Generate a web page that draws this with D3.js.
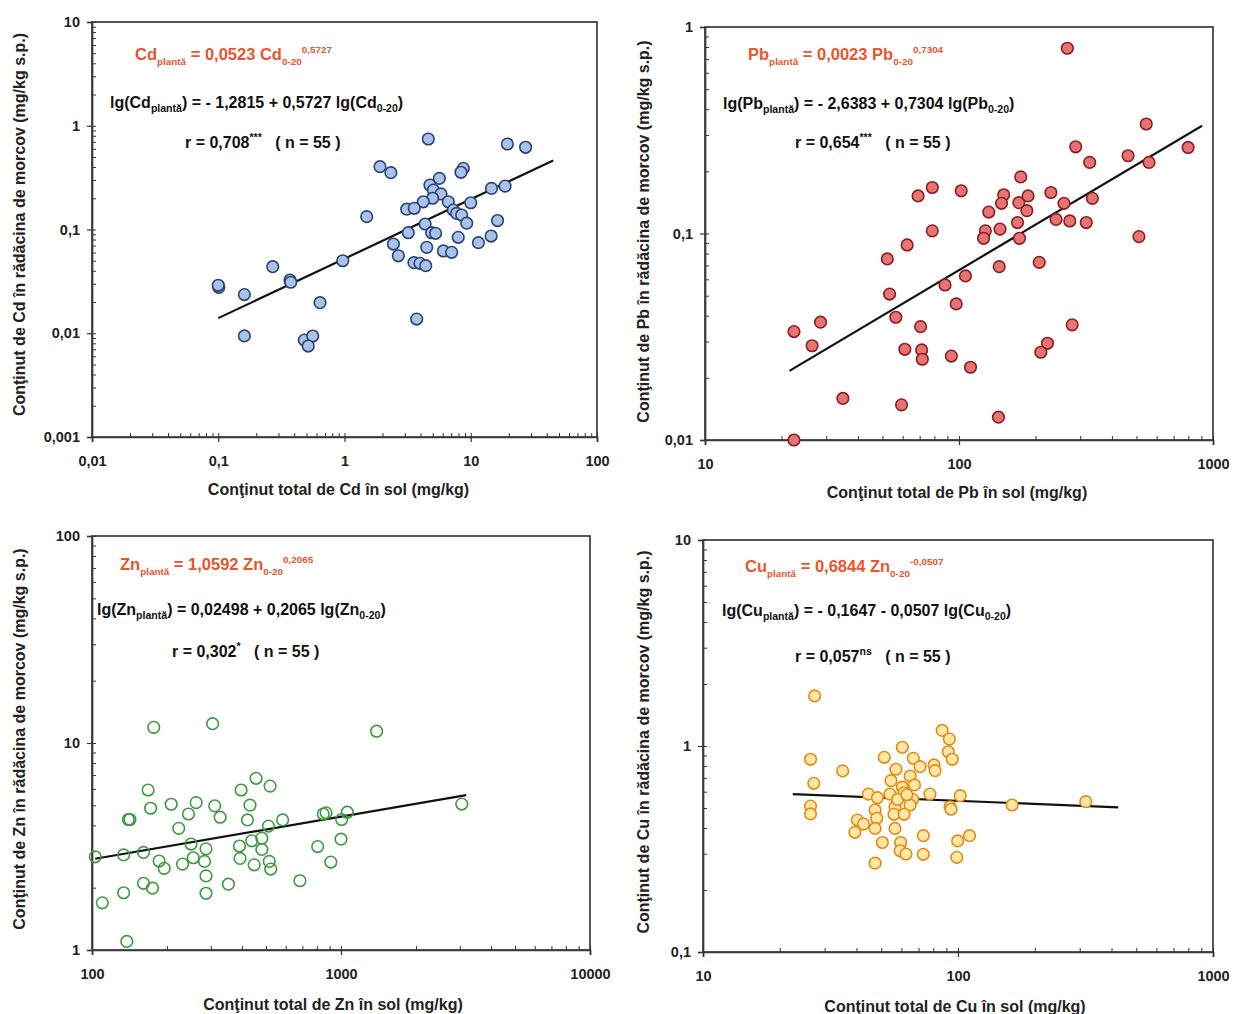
<!DOCTYPE html>
<html><head><meta charset="utf-8">
<script src="https://cdn.jsdelivr.net/npm/d3@7"></script>
<style>body{margin:0;background:#fff} text{white-space:pre}</style>
</head><body>
<svg id="c" width="1236" height="1014"></svg>
<script>
// ---------- DATA ----------
const cdSoil  = [4.61,19.5,27.2,1.91,2.33,8.73,8.37,5.64,4.75,5.06,5.81,4.99,4.21,3.11,3.57,6.64,7.27,7.73,10.0,8.47,9.29,14.6,18.7,16.3,14.5,11.5,7.96,4.35,4.90,5.27,4.48,6.07,7.06,3.20,2.44,2.67,3.55,3.96,4.40,1.50,0.969,0.270,0.370,0.375,0.101,0.100,0.161,0.640,3.73,0.161,0.481,0.560,0.516];
const cdPlant = [0.745,0.667,0.620,0.403,0.353,0.389,0.356,0.311,0.268,0.240,0.220,0.200,0.185,0.157,0.160,0.185,0.154,0.143,0.181,0.138,0.115,0.249,0.262,0.122,0.0865,0.0746,0.0841,0.113,0.0931,0.0919,0.0673,0.0621,0.0603,0.0931,0.0724,0.0558,0.0479,0.0472,0.0448,0.133,0.050,0.0438,0.0326,0.031,0.0277,0.029,0.0236,0.0197,0.0137,0.00942,0.0086,0.0094,0.00753];

const pbSoil  = [267,546,798,288,327,463,560,175,69,78.5,102,150,147,172,187,185,230,259,335,131,170,241,273,317,127,125,145,173,78.5,511,62.5,52.2,144,207,106,88.1,53.3,97.5,56.4,70.6,279,22.4,28.5,26.4,61.2,71.3,71.7,93.3,111,223,210,34.9,59.4,143,22.4];
const pbPlant = [0.789,0.339,0.261,0.263,0.221,0.238,0.221,0.188,0.152,0.167,0.161,0.154,0.140,0.141,0.152,0.129,0.158,0.140,0.148,0.127,0.113,0.117,0.115,0.113,0.103,0.0948,0.105,0.0948,0.103,0.0966,0.088,0.0753,0.0691,0.0725,0.0623,0.0563,0.0509,0.0456,0.0393,0.0354,0.0361,0.0335,0.0372,0.0286,0.0275,0.0273,0.0246,0.0255,0.0225,0.0294,0.0266,0.0159,0.0148,0.0129,0.0100];

const znSoil  = [177,305,1390,168,172,140,142,208,262,244,311,327,223,397,456,519,431,421,511,583,849,871,1060,1006,3055,103,134,161,186,195,231,250,255,287,283,287,287,161,175,134,110,138,353,391,393,448,438,481,481,515,522,684,806,910,1000];
const znPlant = [11.9,12.4,11.4,5.93,4.84,4.27,4.27,5.06,5.15,4.54,4.97,4.38,3.87,5.93,6.75,6.19,5.01,4.25,3.97,4.25,4.54,4.60,4.63,4.27,5.07,2.82,2.88,2.96,2.69,2.48,2.60,3.25,2.79,3.08,2.68,2.28,1.88,2.10,1.99,1.89,1.69,1.10,2.08,3.18,2.77,2.58,3.37,3.47,3.06,2.68,2.46,2.16,3.16,2.66,3.43];

const cuSoil  = [27.4,26.4,27.2,26.4,26.4,35.3,51.4,60.5,66.8,71.0,80.5,81.3,86.7,92.5,91.6,95.0,57.1,54.6,64.9,67.5,60.5,61.4,54.1,44.5,48.3,66.4,64.9,56.6,77.6,102,93.1,93.9,163,317,47.3,56.1,61.5,48.0,40.3,42.6,39.4,47.3,56.6,50.5,59.6,59.3,62.5,73.1,73.1,99.7,111,98.9,47.3,58,63];
const cuPlant = [1.75,0.862,0.659,0.511,0.468,0.757,0.881,0.986,0.871,0.794,0.809,0.759,1.19,1.08,0.938,0.862,0.771,0.679,0.715,0.647,0.631,0.593,0.584,0.584,0.561,0.551,0.517,0.507,0.584,0.574,0.507,0.493,0.517,0.537,0.489,0.466,0.466,0.446,0.437,0.418,0.381,0.398,0.398,0.340,0.340,0.310,0.299,0.367,0.298,0.346,0.367,0.288,0.270,0.55,0.58];

// regression: a * x^b, drawn over given soil range
const cdFit = {a:0.0523, b:0.5727, from:0.1, to:45};
const pbFit = {a:0.0023, b:0.7304, from:21.5, to:906};
const znFit = {a:1.0592, b:0.2065, from:103, to:3180};
const cuFit = {a:0.6844, b:-0.0507, from:22.5, to:425};

// tick values and labels
const cdXTicks = [0.01,0.1,1,10,100], cdXLabels = ["0,01","0,1","1","10","100"];
const cdYTicks = [0.001,0.01,0.1,1,10], cdYLabels = ["0,001","0,01","0,1","1","10"];
const pbXTicks = [10,100,1000], pbXLabels = ["10","100","1000"];
const pbYTicks = [0.01,0.1,1], pbYLabels = ["0,01","0,1","1"];
const znXTicks = [100,1000,10000], znXLabels = ["100","1000","10000"];
const znYTicks = [1,10,100], znYLabels = ["1","10","100"];
const cuXTicks = [10,100,1000], cuXLabels = ["10","100","1000"];
const cuYTicks = [0.1,1,10], cuYLabels = ["0,1","1","10"];

// texts
const cdTexts = {
  eq:[["Cd"],["plantă","sub"],[" = 0,0523 Cd"],["0-20","sub"],["0,5727","sup"]],
  lg:[["lg(Cd"],["plantă","sub"],[") = - 1,2815 + 0,5727 lg(Cd"],["0-20","sub"],[")"]],
  r:[["r = 0,708"],["***","sup"],["   ( n = 55 )"]],
  xt:"Conţinut total de Cd în sol (mg/kg)", yt:"Conţinut de Cd în rădăcina de morcov (mg/kg s.p.)"};
const pbTexts = {
  eq:[["Pb"],["plantă","sub"],[" = 0,0023 Pb"],["0-20","sub"],["0,7304","sup"]],
  lg:[["lg(Pb"],["plantă","sub"],[") = - 2,6383 + 0,7304 lg(Pb"],["0-20","sub"],[")"]],
  r:[["r = 0,654"],["***","sup"],["   ( n = 55 )"]],
  xt:"Conţinut total de Pb în sol (mg/kg)", yt:"Conţinut de Pb în rădăcina de morcov (mg/kg s.p.)"};
const znTexts = {
  eq:[["Zn"],["plantă","sub"],[" = 1,0592 Zn"],["0-20","sub"],["0,2065","sup"]],
  lg:[["lg(Zn"],["plantă","sub"],[") = 0,02498 + 0,2065 lg(Zn"],["0-20","sub"],[")"]],
  r:[["r = 0,302"],["*","sup"],["   ( n = 55 )"]],
  xt:"Conţinut total de Zn în sol (mg/kg)", yt:"Conţinut de Zn în rădăcina de morcov (mg/kg s.p.)"};
const cuTexts = {
  eq:[["Cu"],["plantă","sub"],[" = 0,6844 Zn"],["0-20","sub"],["-0,0507","sup"]],
  lg:[["lg(Cu"],["plantă","sub"],[") = - 0,1647 - 0,0507 lg(Cu"],["0-20","sub"],[")"]],
  r:[["r = 0,057"],["ns","sup"],["   ( n = 55 )"]],
  xt:"Conţinut total de Cu în sol (mg/kg)", yt:"Conţinut de Cu în rădăcina de morcov (mg/kg s.p.)"};

// ---------- DRAWING ----------
const svg = d3.select("#c");
const FONT = "'Liberation Sans', Arial, sans-serif";

function minorTicks(dom){
  const out=[]; const lo=Math.round(Math.log10(dom[0])), hi=Math.round(Math.log10(dom[1]));
  for(let k=lo;k<=hi;k++){ for(let m=1;m<=9;m++){ const v=m*Math.pow(10,k); if(v>=dom[0]*0.999&&v<=dom[1]*1.001) out.push(v);} }
  return out;
}

function richText(g, x, y, parts, size, color, subScale){
  const t = g.append("text").attr("x",x).attr("y",y).attr("font-family",FONT)
    .attr("font-weight","bold").attr("font-size",size).attr("fill",color)
    .attr("xml:space","preserve");
  let cur=0;
  parts.forEach(p=>{
    let target=0, fs=size;
    if(p[1]==="sub"){target=size*0.28; fs=size*subScale;}
    if(p[1]==="sup"){target=-size*0.45; fs=size*subScale;}
    t.append("tspan").attr("dy",target-cur).attr("font-size",fs).text(p[0]);
    cur=target;
  });
  return t;
}

function panel(cfg){
  const g = svg.append("g");
  const x = d3.scaleLog().domain(cfg.xDom).range([cfg.x0,cfg.x1]);
  const y = d3.scaleLog().domain(cfg.yDom).range([cfg.y1,cfg.y0]);

  // frame
  g.append("rect").attr("x",cfg.x0).attr("y",cfg.y0).attr("width",cfg.x1-cfg.x0).attr("height",cfg.y1-cfg.y0)
    .attr("fill","none").attr("stroke","#3a3a3a").attr("stroke-width",1.7);

  // minor ticks (inside)
  const gxm = g.append("g").attr("transform",`translate(0,${cfg.y1})`)
    .call(d3.axisBottom(x).tickValues(minorTicks(cfg.xDom)).tickSize(-4).tickFormat(""));
  const gym = g.append("g").attr("transform",`translate(${cfg.x0},0)`)
    .call(d3.axisLeft(y).tickValues(minorTicks(cfg.yDom)).tickSize(-4).tickFormat(""));
  [gxm,gym].forEach(a=>{a.select(".domain").remove(); a.selectAll("line").attr("stroke","#333").attr("stroke-width",1);});

  // major ticks (outside) with labels
  const gx = g.append("g").attr("transform",`translate(0,${cfg.y1})`)
    .call(d3.axisBottom(x).tickValues(cfg.xTicks).tickSize(5).tickPadding(14).tickFormat((d,i)=>cfg.xLabels[i]));
  const gy = g.append("g").attr("transform",`translate(${cfg.x0},0)`)
    .call(d3.axisLeft(y).tickValues(cfg.yTicks).tickSize(5).tickPadding(7).tickFormat((d,i)=>cfg.yLabels[i]));
  [gx,gy].forEach(a=>{
    a.select(".domain").attr("stroke","#3a3a3a").attr("stroke-width",1.7);
    a.selectAll("line").attr("stroke","#333").attr("stroke-width",1.2);
    a.selectAll("text").attr("font-family",FONT).attr("font-size",14.5).attr("font-weight","bold").attr("fill","#222");
  });

  // regression line
  const fit = cfg.fit;
  const ln = [fit.from, fit.to].map(v=>[v, fit.a*Math.pow(v,fit.b)]);
  g.append("line").attr("x1",x(ln[0][0])).attr("y1",y(ln[0][1])).attr("x2",x(ln[1][0])).attr("y2",y(ln[1][1]))
    .attr("stroke","#111").attr("stroke-width",2.2);

  // points
  const pts = cfg.xs.map((v,i)=>[v,cfg.ys[i]]);
  g.selectAll("circle.p").data(pts).enter().append("circle").attr("class","p")
    .attr("cx",d=>x(d[0])).attr("cy",d=>y(d[1])).attr("r",5.8)
    .attr("fill",cfg.fill).attr("stroke",cfg.stroke).attr("stroke-width",1.6);

  // text
  richText(g, cfg.eqPos[0], cfg.eqPos[1], cfg.texts.eq, 16.5, "#e8552e", 0.6);
  richText(g, cfg.lgPos[0], cfg.lgPos[1], cfg.texts.lg, 16, "#111", 0.66);
  richText(g, cfg.rPos[0], cfg.rPos[1], cfg.texts.r, 16, "#111", 0.66);

  g.append("text").attr("x",(cfg.x0+cfg.x1)/2 + cfg.xtDx).attr("y",cfg.y1+cfg.xtOff).attr("text-anchor","middle")
    .attr("font-family",FONT).attr("font-weight","bold").attr("font-size",16).attr("fill","#222").text(cfg.texts.xt);
  g.append("text").attr("transform",`translate(${cfg.ytX},${(cfg.y0+cfg.y1)/2 + cfg.ytDy}) rotate(-90)`).attr("text-anchor","middle")
    .attr("font-family",FONT).attr("font-weight","bold").attr("font-size",16).attr("fill","#222").text(cfg.texts.yt);
}

panel({x0:92,x1:597,y0:22,y1:437,xDom:[0.01,100],yDom:[0.001,10],xs:cdSoil,ys:cdPlant,fit:cdFit,
  xTicks:cdXTicks,xLabels:cdXLabels,yTicks:cdYTicks,yLabels:cdYLabels,fill:"#a9c2ea",stroke:"#2a4372",
  texts:cdTexts,eqPos:[135,60],lgPos:[110,108],rPos:[185,148],xtOff:58,xtDx:-6,ytX:25,ytDy:-5});
panel({x0:705,x1:1213,y0:27,y1:440,xDom:[10,1000],yDom:[0.01,1],xs:pbSoil,ys:pbPlant,fit:pbFit,
  xTicks:pbXTicks,xLabels:pbXLabels,yTicks:pbYTicks,yLabels:pbYLabels,fill:"#e77474",stroke:"#8a1f1f",
  texts:pbTexts,eqPos:[748,60],lgPos:[723,109],rPos:[795,148],xtOff:58,xtDx:-2,ytX:649,ytDy:-2});
panel({x0:92,x1:590,y0:536,y1:950,xDom:[100,10000],yDom:[1,100],xs:znSoil,ys:znPlant,fit:znFit,
  xTicks:znXTicks,xLabels:znXLabels,yTicks:znYTicks,yLabels:znYLabels,fill:"none",stroke:"#3d9a3d",
  texts:znTexts,eqPos:[120,570],lgPos:[97,615],rPos:[172,657],xtOff:60,xtDx:-8,ytX:25,ytDy:-4});
panel({x0:703,x1:1213,y0:540,y1:952,xDom:[10,1000],yDom:[0.1,10],xs:cuSoil,ys:cuPlant,fit:cuFit,
  xTicks:cuXTicks,xLabels:cuXLabels,yTicks:cuYTicks,yLabels:cuYLabels,fill:"#ffe6a6",stroke:"#e08d12",
  texts:cuTexts,eqPos:[745,572],lgPos:[722,616],rPos:[795,662],xtOff:60,xtDx:-3,ytX:649,ytDy:-4});
</script>
</body></html>
